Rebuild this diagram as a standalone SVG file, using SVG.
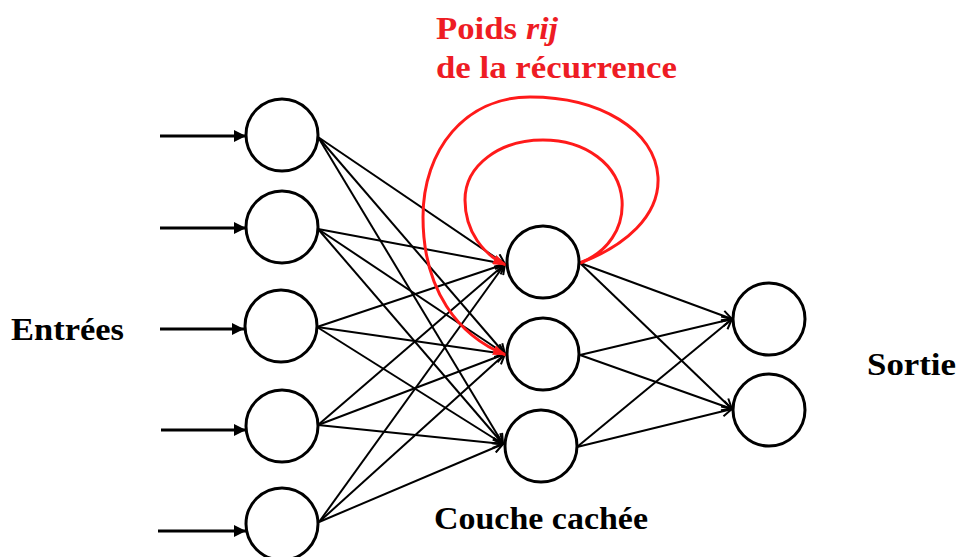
<svg xmlns="http://www.w3.org/2000/svg" width="958" height="557" viewBox="0 0 958 557">
<style>
.node{fill:#fff;stroke:#000;stroke-width:3}
.in{stroke:#000;stroke-width:3;fill:none}
.w{stroke:#000;stroke-width:2;fill:none;marker-end:url(#open)}
.rec{stroke:#ff1a1a;stroke-width:3;fill:none;marker-end:url(#red)}
.lbl{font-family:"Liberation Serif","Times New Roman",serif;font-weight:bold;font-size:32px;fill:#000}
.red{fill:#ee1c24}
</style>
<defs>
<marker id="solid" viewBox="0 0 12 12" refX="12" refY="6" markerWidth="12" markerHeight="12" markerUnits="userSpaceOnUse" orient="auto">
<path d="M0,0 L12,6 L0,12 Z" fill="#000"/>
</marker>
<marker id="open" viewBox="0 0 12 12" refX="11" refY="6" markerWidth="12" markerHeight="12" markerUnits="userSpaceOnUse" orient="auto">
<path d="M1,1 L11,6 L1,11" fill="none" stroke="#000" stroke-width="2"/>
</marker>
<marker id="red" viewBox="0 0 14 10" refX="13" refY="5" markerWidth="14" markerHeight="10" markerUnits="userSpaceOnUse" orient="auto">
<path d="M0,0 L14,5 L0,10 Z" fill="#ff1a1a"/>
</marker>
</defs>

<g id="connectors">
<line class="in" x1="160" y1="136" x2="246" y2="136" marker-end="url(#solid)"/>
<line class="in" x1="160" y1="228" x2="246" y2="228" marker-end="url(#solid)"/>
<line class="in" x1="160" y1="329" x2="244" y2="329" marker-end="url(#solid)"/>
<line class="in" x1="161" y1="430" x2="246" y2="430" marker-end="url(#solid)"/>
<line class="in" x1="158" y1="531" x2="246" y2="531" marker-end="url(#solid)"/>
<g>
<line class="w" x1="318" y1="137" x2="505" y2="264"/>
<line class="w" x1="318" y1="137" x2="505" y2="354"/>
<line class="w" x1="318" y1="137" x2="503" y2="444"/>
<line class="w" x1="318" y1="229" x2="505" y2="264"/>
<line class="w" x1="318" y1="229" x2="505" y2="354"/>
<line class="w" x1="318" y1="229" x2="503" y2="444"/>
<line class="w" x1="317" y1="327" x2="505" y2="264"/>
<line class="w" x1="317" y1="327" x2="505" y2="354"/>
<line class="w" x1="317" y1="327" x2="503" y2="444"/>
<line class="w" x1="318" y1="425" x2="505" y2="264"/>
<line class="w" x1="318" y1="425" x2="505" y2="354"/>
<line class="w" x1="318" y1="425" x2="503" y2="444"/>
<line class="w" x1="319" y1="522" x2="505" y2="264"/>
<line class="w" x1="319" y1="522" x2="505" y2="354"/>
<line class="w" x1="319" y1="522" x2="503" y2="444"/>
</g>
<g>
<line class="w" x1="580" y1="263" x2="732" y2="319"/>
<line class="w" x1="580" y1="263" x2="732" y2="409"/>
<line class="w" x1="580" y1="355" x2="732" y2="319"/>
<line class="w" x1="580" y1="355" x2="732" y2="409"/>
<line class="w" x1="577" y1="447" x2="732" y2="319"/>
<line class="w" x1="577" y1="447" x2="732" y2="409"/>
</g>
<path class="rec" d="M580,263 C608,252 624,228 622,200 C619,164 585,140 543,140 C500,140 465,165 465,200 C465,232 484,255 506,265"/>
<path class="rec" d="M580,263 C625,246 660,216 658,177 C655,130 600,97 530,97 C465,97 423,150 423,217 C423,290 458,336 506,355"/>
</g>

<g id="in1"><circle class="node" cx="282" cy="135" r="36"/></g>
<g id="in2"><circle class="node" cx="282" cy="227" r="36"/></g>
<g id="in3"><circle class="node" cx="281" cy="326" r="36"/></g>
<g id="in4"><circle class="node" cx="282" cy="426" r="36"/></g>
<g id="in5"><circle class="node" cx="282" cy="524" r="36"/></g>

<g id="h1"><circle class="node" cx="543" cy="262" r="36"/></g>
<g id="h2"><circle class="node" cx="543" cy="354" r="36"/></g>
<g id="h3"><circle class="node" cx="541" cy="446" r="36"/></g>

<g id="o1"><circle class="node" cx="769" cy="319" r="36"/></g>
<g id="o2"><circle class="node" cx="769" cy="410" r="36"/></g>

<g id="labels">
<text class="lbl" x="11" y="340" textLength="113" lengthAdjust="spacingAndGlyphs">Entrées</text>
<text class="lbl" x="867" y="375" textLength="89" lengthAdjust="spacingAndGlyphs">Sortie</text>
<text class="lbl" x="434" y="529" textLength="214" lengthAdjust="spacingAndGlyphs">Couche cachée</text>
<text class="lbl red" y="39"><tspan x="436" textLength="81" lengthAdjust="spacingAndGlyphs">Poids</tspan><tspan x="526" font-style="italic" textLength="32" lengthAdjust="spacingAndGlyphs">rij</tspan></text>
<text class="lbl red" x="436" y="78" textLength="241" lengthAdjust="spacingAndGlyphs">de la récurrence</text>
</g>
</svg>
